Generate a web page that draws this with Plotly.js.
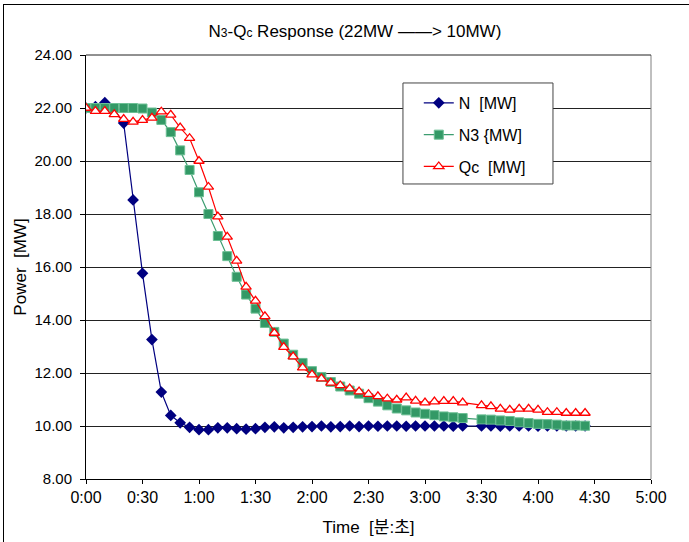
<!DOCTYPE html>
<html>
<head>
<meta charset="utf-8">
<script src="https://cdn.plot.ly/plotly-3.0.1.min.js"></script>
<style>
  html, body { margin: 0; padding: 0; background: #ffffff; }
  #wrap { position: relative; width: 689px; height: 542px; overflow: hidden; }
  #frame { position: absolute; left: 3px; top: 4px; width: 800px; height: 700px;
           border-left: 1px solid #000; border-top: 1px solid #000; }
  #chart { position: absolute; left: 0; top: 0; width: 689px; height: 542px; }
</style>
</head>
<body>
<div id="wrap">
  <div id="frame"></div>
  <div id="chart"></div>
</div>
<script>
// sample times in seconds (5 s sampling, the 3:25 sample is missing in the source)
const timeSec = [0,5,10,15,20,25,30,35,40,45,50,55,60,65,70,75,80,85,90,95,
  100,105,110,115,120,125,130,135,140,145,150,155,160,165,170,175,180,185,190,195,
  200,210,215,220,225,230,235,240,245,250,255,260,265];

const seriesN = [22.00,22.05,22.20,21.95,21.43,18.53,15.76,13.26,11.28,10.40,
  10.12,9.95,9.86,9.86,9.93,9.93,9.90,9.88,9.90,9.95,
  9.97,9.93,9.95,9.97,9.98,10.00,9.97,9.98,10.00,9.98,
  10.00,9.99,10.00,10.00,9.99,10.00,10.00,10.00,10.00,9.99,
  10.00,10.00,10.00,9.99,10.00,10.00,10.00,9.99,10.00,10.00,10.00,10.00,10.00];

const seriesN3 = [22.00,22.00,22.00,22.00,22.00,22.00,21.98,21.83,21.55,21.09,
  20.40,19.66,18.82,18.00,17.17,16.41,15.63,14.96,14.43,13.89,
  13.55,13.11,12.69,12.38,12.07,11.85,11.66,11.49,11.34,11.22,
  11.05,10.92,10.78,10.66,10.59,10.51,10.46,10.41,10.36,10.33,
  10.30,10.25,10.24,10.21,10.19,10.14,10.11,10.08,10.07,10.05,10.02,10.02,10.01];

const seriesQc = [22.00,21.88,21.88,21.76,21.58,21.48,21.54,21.63,21.86,21.74,
  21.26,20.86,20.00,19.02,17.90,17.14,16.23,15.25,14.72,14.14,
  13.51,12.98,12.62,12.20,11.94,11.79,11.63,11.53,11.41,11.30,
  11.20,11.12,11.03,10.99,11.07,10.95,10.88,10.92,10.94,10.94,
  10.88,10.78,10.74,10.65,10.61,10.65,10.65,10.61,10.52,10.52,10.49,10.49,10.49];

const seriesNames = ['N\u00a0\u00a0[MW]', 'N3\u00a0{MW]', 'Qc\u00a0\u00a0[MW]'];
const xTickVals = [0,30,60,90,120,150,180,210,240,270,300];
const xTickText = ['0:00','0:30','1:00','1:30','2:00','2:30','3:00','3:30','4:00','4:30','5:00'];

const FONT = 'Liberation Sans, Arial, Noto Sans CJK KR, sans-serif';

const traces = [
  { x: timeSec, y: seriesN, name: seriesNames[0], type: 'scatter', mode: 'lines+markers',
    legendgroup: 'a',
    line: { color: '#000080', width: 1.2 },
    marker: { symbol: 'diamond', size: 9, color: '#000080', line: { width: 0 } } },
  { x: timeSec, y: seriesN3, name: seriesNames[1], type: 'scatter', mode: 'lines+markers',
    legendgroup: 'b',
    line: { color: '#3c9d70', width: 1.2 },
    marker: { symbol: 'square', size: 9, color: '#339966', line: { color: '#6cbf94', width: 1 } } },
  { x: timeSec, y: seriesQc, name: seriesNames[2], type: 'scatter', mode: 'lines+markers',
    legendgroup: 'c',
    line: { color: '#ff0000', width: 1.2 },
    marker: { symbol: 'triangle-up', size: 9, color: '#ffffff', line: { color: '#ff0000', width: 1.3 } } }
];

const layout = {
  width: 689, height: 542,
  margin: { l: 86, r: 38, t: 55, b: 63, pad: 0 },
  paper_bgcolor: 'rgba(0,0,0,0)',
  plot_bgcolor: '#ffffff',
  font: { family: FONT, size: 15, color: '#000' },
  title: {
    text: 'N<span style="font-size:12px">3</span>-Q<span style="font-size:12px">c</span> Response (22MW ——> 10MW)',
    x: 0.476, xanchor: 'center', xref: 'paper', y: 0.943, yanchor: 'middle',
    font: { family: FONT, size: 17, color: '#000' }
  },
  showlegend: true,
  legend: {
    x: 0.589, y: 0.927, xanchor: 'left', yanchor: 'top',
    bgcolor: 'rgba(0,0,0,0)', borderwidth: 0,
    font: { family: FONT, size: 16, color: '#000' },
    tracegroupgap: 8, itemwidth: 30
  },
  xaxis: {
    range: [0, 300], tickvals: xTickVals, ticktext: xTickText,
    showgrid: false, zeroline: false,
    showline: true, linecolor: '#000', linewidth: 1,
    ticks: 'outside', ticklen: 4, tickcolor: '#000',
    tickfont: { family: FONT, size: 16, color: '#000' },
    title: { text: 'Time\u00a0\u00a0[분:초]', standoff: 15, font: { family: FONT, size: 17, color: '#000' } }
  },
  yaxis: {
    range: [8, 24], dtick: 2, tick0: 8, tickformat: '.2f',
    showgrid: true, gridcolor: '#222', gridwidth: 1,
    zeroline: false,
    showline: true, linecolor: '#000', linewidth: 1,
    ticks: 'outside', ticklen: 5, tickcolor: '#000',
    ticklabelstandoff: 5,
    tickfont: { family: FONT, size: 15, color: '#000' },
    title: { text: 'Power\u00a0\u00a0[MW]', standoff: 3, font: { family: FONT, size: 17, color: '#000' } }
  },
  shapes: [
    { type: 'line', xref: 'paper', yref: 'paper', x0: 1, x1: 1, y0: 0, y1: 1,
      line: { color: '#808080', width: 1 } },
    { type: 'line', xref: 'paper', yref: 'paper', x0: 0, x1: 1, y0: 1, y1: 1,
      line: { color: '#222', width: 1 } },
    // legend frame
    { type: 'rect', xref: 'paper', yref: 'paper', layer: 'above',
      x0: 0.561, x1: 0.8265, y0: 0.6958, y1: 0.934,
      fillcolor: '#ffffff', line: { color: '#444', width: 1 } }
  ]
};

Plotly.newPlot('chart', traces, layout, { displayModeBar: false, staticPlot: true });
</script>
</body>
</html>
